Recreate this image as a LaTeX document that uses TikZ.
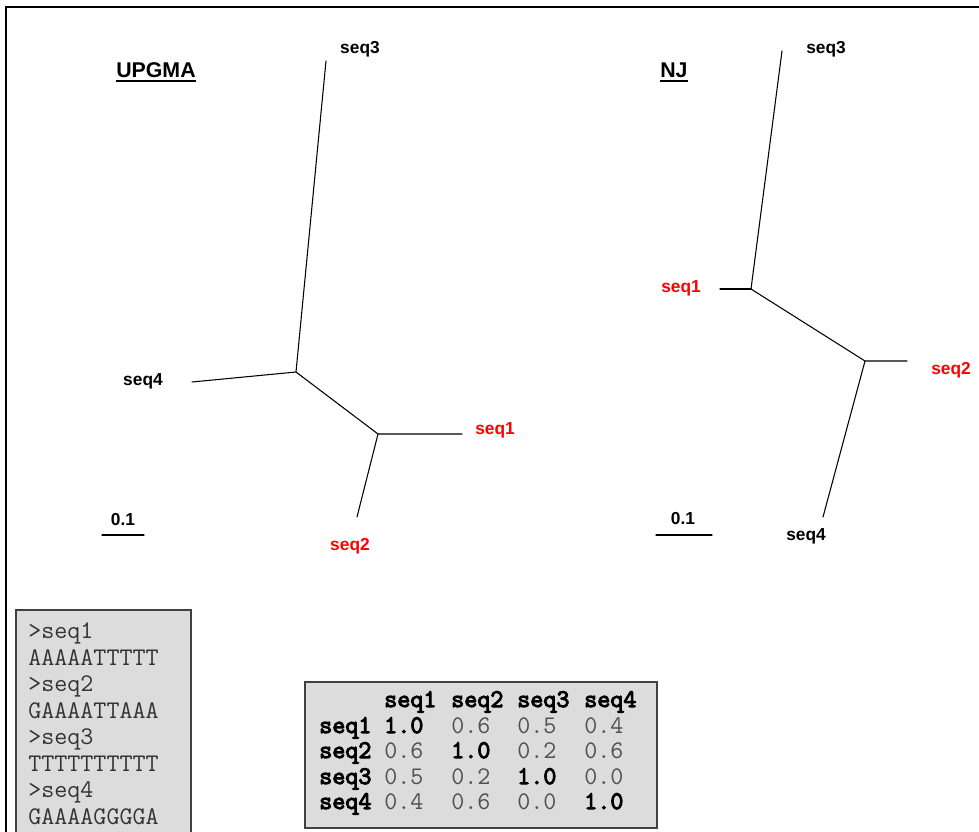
\documentclass[tikz,border=0pt]{standalone}
\usepackage{fontspec}
\setmainfont{Liberation Sans}
\newfontfamily\heavymono[FakeBold=4]{Latin Modern Mono}
\usetikzlibrary{positioning}
\definecolor{boxgray}{RGB}{220,220,220}
\definecolor{edgegray}{RGB}{64,64,64}
\definecolor{seqgray}{RGB}{50,50,50}
\definecolor{numgray}{RGB}{80,80,80}
\definecolor{leafred}{RGB}{255,0,0}
\tikzset{
  branch/.style={line width=0.8pt, line cap=round},
  leaflabel/.style={inner sep=0pt, font=\fontsize{13}{15}\selectfont\bfseries},
  title/.style={inner sep=0pt, anchor=base west, font=\fontsize{16}{18}\selectfont\bfseries},
  monobox/.style={fill=boxgray, draw=edgegray, line width=1.5pt},
  mono/.style={inner sep=0pt, anchor=base west, font=\fontsize{19}{22}\selectfont\ttfamily},
  monobold/.style={mono, font=\fontsize{19}{22}\selectfont\heavymono}
}

\begin{document}
\begin{tikzpicture}[x=0.75pt, y=-0.75pt]
    \useasboundingbox (0,0) rectangle (979,832);
    \clip (0,0) rectangle (979,832);

    % outer frame (runs off right and bottom)
    \draw[line width=1.6pt] (6,1000) -- (6,7) -- (1100,7);

    % UPGMA tree
    \node[title] (upgma) at (116,77) {UPGMA};
    \draw[line width=1.5pt] ([yshift=-3pt]upgma.base west) -- ([yshift=-3pt]upgma.base east);
    \coordinate (u3) at (326,61);
    \coordinate (uA) at (296,372);
    \coordinate (u4) at (192,382);
    \coordinate (uB) at (378,434);
    \coordinate (u1) at (462,434);
    \coordinate (u2) at (357,517);
    \draw[branch] (u3) -- (uA) -- (uB) -- (u1);
    \draw[branch] (u4) -- (uA);
    \draw[branch] (uB) -- (u2);
    \node[leaflabel] (lu3) at (360,49) {seq3};
    \node[leaflabel] (lu4) at (143,381) {seq4};
    \node[leaflabel, text=leafred] (lu1) at (495,430) {seq1};
    \node[leaflabel, text=leafred] (lu2) at (350,546) {seq2};
    % scale bar
    \coordinate (usa) at (102,535);
    \coordinate (usb) at (144,535);
    \draw[branch] (usa) -- (usb);
    \node[leaflabel] (uscale) at (123,520) {0.1};

    % NJ tree
    \node[title] (nj) at (660,77) {NJ};
    \draw[line width=1.5pt] ([yshift=-3pt]nj.base west) -- ([yshift=-3pt]nj.base east);
    \coordinate (n3) at (782,51);
    \coordinate (nC) at (751,289);
    \coordinate (n1) at (720,289);
    \coordinate (nD) at (865,361);
    \coordinate (n2) at (907,361);
    \coordinate (n4) at (823,517);
    \draw[branch] (n3) -- (nC) -- (nD) -- (n2);
    \draw[branch] (n1) -- (nC);
    \draw[branch] (nD) -- (n4);
    \node[leaflabel] (ln3) at (826,49) {seq3};
    \node[leaflabel, text=leafred] (ln1) at (681,288) {seq1};
    \node[leaflabel, text=leafred] (ln2) at (951,370) {seq2};
    \node[leaflabel] (ln4) at (806,536) {seq4};
    % scale bar
    \coordinate (nsa) at (656,535);
    \coordinate (nsb) at (712,535);
    \draw[branch] (nsa) -- (nsb);
    \node[leaflabel] (nscale) at (683,519) {0.1};

    % sequences
    \draw[monobox] (16,610) rectangle (191,900);
    \foreach \k/\t in {0/>seq1, 1/AAAAATTTTT, 2/>seq2, 3/GAAAATTAAA,
                       4/>seq3, 5/TTTTTTTTTT, 6/>seq4, 7/GAAAAGGGGA} {
        \node[mono, text=seqgray] (fa\k) at (28,638.5+26.5*\k) {\t};
    }

    % distance matrix
    \draw[monobox] (305,682) rectangle (657,828);
    \foreach \j/\x in {1/384, 2/451, 3/517, 4/584} {
        \node[monobold] (h\j) at (\x,707) {seq\j};
    }
    \foreach \r/\y/\va/\vb/\vc/\vd in {1/733/1.0/0.6/0.5/0.4, 2/758/0.6/1.0/0.2/0.6,
                                       3/784/0.5/0.2/1.0/0.0, 4/809/0.4/0.6/0.0/1.0} {
        \node[monobold] (r\r) at (319,\y) {seq\r};
        \foreach \j/\x/\v in {1/384/\va, 2/451/\vb, 3/517/\vc, 4/584/\vd} {
            \ifnum\r=\j
                \node[monobold] (m\r\j) at (\x,\y) {\v};
            \else
                \node[mono, text=numgray] (m\r\j) at (\x,\y) {\v};
            \fi
        }
    }
\end{tikzpicture}
\end{document}
